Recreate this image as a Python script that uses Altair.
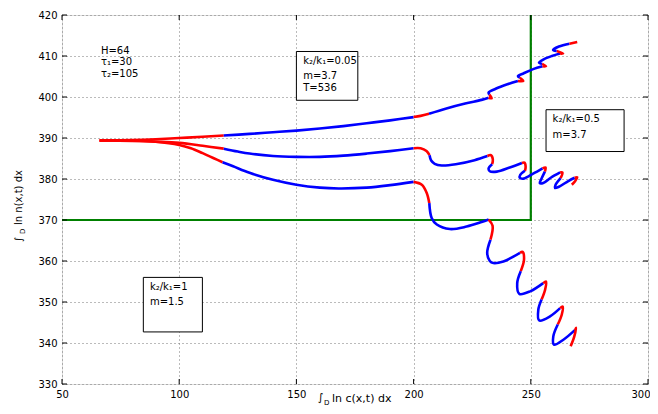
import altair as alt
import pandas as pd

# ---------------- data ----------------
x_ticks = [50, 100, 150, 200, 250, 300]
y_ticks = [330, 340, 350, 360, 370, 380, 390, 400, 410, 420]

# curve 1 (top): points and colour of the piece that starts at each point
c1_x = [66, 80, 90, 100, 110, 119, 130, 140, 150, 160, 170, 180, 190, 200, 203, 206.6,
        214, 222, 229, 232, 233.3, 232.3, 232, 235, 240, 244.5, 246.8, 245.3, 244.5, 247,
        251, 255, 256.5, 254.8, 253.5, 255.5, 259, 262.5, 263.8, 261, 259.5, 262, 266.5, 269.8]
c1_y = [389.4, 389.5, 389.7, 390.0, 390.3, 390.6, 391.0, 391.4, 391.8, 392.3, 392.9, 393.6, 394.3, 395.1, 395.4, 395.9,
        397.2, 398.4, 399.3, 399.8, 399.7, 400.6, 401.1, 402.0, 403.1, 403.9, 403.9, 404.7, 405.1, 405.8,
        406.8, 407.5, 407.5, 408.1, 408.4, 409.2, 410.0, 410.6, 410.6, 411.2, 411.5, 412.3, 413.0, 413.4]
c1_c = list("rrrrr" "bbbbbbbb" "rr" "bbbb" "rr" "bbbb" "rr" "bbbb" "rr" "bbbb" "rr" "bbb" "rr")

# curve 2 (middle)
c2_x = [66, 80, 90, 100, 110, 119, 125, 130, 140, 150, 160, 170, 180, 190, 200, 203, 205.5,
        206.8, 207.5, 209, 212, 218, 226, 231.5, 233, 233.8, 233.5, 232, 232.5, 235.5, 241,
        246.2, 247.3, 247.8, 247.5, 245.5, 245.3, 247, 251, 255, 256.3, 256, 254.5, 253.8, 255.3,
        258.5, 262.5, 263.5, 262.7, 260.5, 260.3, 262, 266, 268.7, 269.8, 268.8, 267.5]
c2_y = [389.4, 389.3, 389.1, 388.8, 388.1, 387.4, 386.7, 386.2, 385.6, 385.4, 385.4, 385.7, 386.2, 386.8, 387.5, 387.5, 386.8,
        385.8, 384.5, 383.7, 383.3, 383.6, 384.6, 385.6, 385.8, 384.8, 383.6, 382.6, 381.9, 381.8, 382.8,
        383.9, 384.0, 383.0, 382.0, 381.0, 380.3, 380.1, 381.3, 382.6, 382.8, 381.8, 380.0, 379.0, 379.0,
        380.3, 381.6, 381.6, 380.2, 378.5, 377.8, 378.1, 379.5, 380.3, 380.4, 379.4, 378.6]
c2_c = list("rrrrr" "bbbbbbbbb" "rrr" "bbbbbb" "rrr" "bbbbb" "rrr" "bbbbb" "rr" "bbbbb" "rr" "bbbbb" "rrrr")

# curve 3 (bottom)
c3_x = [66, 80, 90, 100, 105, 110, 115, 118.5, 123, 130, 140, 150, 160, 168, 180, 190, 200, 203.5, 205.6,
        206.7, 207.7, 209.9, 215.5, 222.6, 229, 232, 233.7, 232.8, 231.4, 232.5, 234, 238.3,
        245.4, 246.5, 247.1, 245.7, 244.2, 245.1, 249.7, 255.3, 256.5, 256.1, 254.6, 253.2, 253.6, 258.2,
        262.5, 263.6, 263.2, 261.5, 259.6, 259.9, 263.9, 268.9, 269.3, 268.5, 267]
c3_y = [389.4, 389.4, 389.1, 388.3, 387.5, 386.3, 385.0, 384.1, 383.1, 381.5, 379.8, 378.6, 377.9, 377.7, 377.9, 378.5, 379.3, 378.6, 376.6,
        374.1, 370.5, 368.9, 367.8, 368.4, 369.5, 370.1, 368.6, 365.2, 362.0, 360.0, 359.5, 359.9,
        362.0, 362.2, 360.3, 357.5, 354.6, 352.0, 352.6, 354.6, 355.0, 353.0, 350.6, 348.1, 345.5, 346.5,
        348.5, 348.9, 346.9, 344.5, 341.6, 339.6, 340.8, 343.2, 343.7, 341.5, 339.2]
c3_c = list("rrrrrrr" "bbbbbbbbb" "rrr" "bbbbbb" "rr" "bbbbb" "rrr" "bbbb" "rrr" "bbbb" "rrr" "bbbb" "rrrr")

# green boundary
green_x = [50, 250, 250]
green_y = [370, 370, 420]

# annotation boxes
box_x1 = [150, 256.5, 84.7]
box_x2 = [176.2, 289.8, 109.9]
box_y1 = [411.1, 396.9, 356.0]
box_y2 = [399.2, 386.7, 342.7]

# annotation texts
ann_text = ["H=64", "τ₁=30", "τ₂=105",
            "k₂/k₁=0.05", "m=3.7", "T=536",
            "k₂/k₁=0.5", "m=3.7",
            "k₂/k₁=1", "m=1.5"]
ann_x = [66.6, 66.6, 66.6, 152.9, 152.9, 152.9, 259.3, 259.3, 87.5, 87.5]
ann_y = [411.3, 408.6, 405.7, 408.7, 405.1, 402.2, 394.7, 390.8, 353.6, 350.1]

# ---------------- build tables ----------------
rows = []
for cid, (xs, ys, cs) in enumerate([(c1_x, c1_y, c1_c), (c2_x, c2_y, c2_c), (c3_x, c3_y, c3_c)]):
    seg = -1
    order = 0
    for i in range(len(xs) - 1):
        if i == 0 or cs[i] != cs[i - 1]:
            seg += 1
            rows.append({"x": xs[i], "y": ys[i], "col": cs[i], "seg": f"{cid}-{seg}", "ord": order})
            order += 1
        rows.append({"x": xs[i + 1], "y": ys[i + 1], "col": cs[i], "seg": f"{cid}-{seg}", "ord": order})
        order += 1
curves_df = pd.DataFrame(rows)

green_df = pd.DataFrame({"x": green_x, "y": green_y, "ord": list(range(len(green_x)))})
box_df = pd.DataFrame({"x1": box_x1, "x2": box_x2, "y1": box_y1, "y2": box_y2})
ann_df = pd.DataFrame({"x": ann_x, "y": ann_y, "t": ann_text})
xt_df = pd.DataFrame({"v": x_ticks})
yt_df = pd.DataFrame({"v": y_ticks})

W, H = 586, 369
FONT = "DejaVu Sans"

xscale = alt.Scale(domain=[50, 300], nice=False, zero=False)
yscale = alt.Scale(domain=[330, 420], nice=False, zero=False)

xaxis = alt.Axis(values=x_ticks, title=None, grid=True, gridDash=[1, 3], gridColor="#777777",
                 gridWidth=1, ticks=False, domain=False, labelFont=FONT, labelFontSize=10,
                 labelColor="black", labelPadding=5, labelFlush=False,
                 labelAlign={"condition": {"test": "datum.value == 300", "value": "right"}, "value": "center"},
                 labelOffset={"condition": {"test": "datum.value == 300", "value": 2}, "value": 0})
yaxis = alt.Axis(values=y_ticks, title=None, grid=True, gridDash=[1, 3], gridColor="#777777",
                 gridWidth=1, ticks=False, domain=False, labelFont=FONT, labelFontSize=10,
                 labelColor="black", labelPadding=5, labelFlush=False)

green = alt.Chart(green_df).mark_line(color="#008000", strokeWidth=2.2).encode(
    x=alt.X("x:Q", scale=xscale, axis=xaxis),
    y=alt.Y("y:Q", scale=yscale, axis=yaxis),
    order="ord:Q",
)

curves = alt.Chart(curves_df).mark_line(strokeWidth=2.6, interpolate="catmull-rom",
                                        strokeJoin="round").encode(
    x=alt.X("x:Q", scale=xscale),
    y=alt.Y("y:Q", scale=yscale),
    color=alt.Color("col:N", scale=alt.Scale(domain=["r", "b"], range=["#ff0000", "#0000ff"]), legend=None),
    detail="seg:N",
    order="ord:Q",
)

boxes = alt.Chart(box_df).mark_rect(fill="white", stroke="black", strokeWidth=1).encode(
    x=alt.X("x1:Q", scale=xscale), x2="x2:Q",
    y=alt.Y("y1:Q", scale=yscale), y2="y2:Q",
)

texts = alt.Chart(ann_df).mark_text(align="left", baseline="middle", font=FONT, fontSize=10,
                                    color="black").encode(
    x=alt.X("x:Q", scale=xscale), y=alt.Y("y:Q", scale=yscale), text="t:N",
)

# inward tick marks on all four sides
tick_b = alt.Chart(xt_df).mark_rule(color="black", strokeWidth=1).encode(
    x=alt.X("v:Q", scale=xscale), y=alt.value(H), y2=alt.value(H - 5))
tick_t = alt.Chart(xt_df).mark_rule(color="black", strokeWidth=1).encode(
    x=alt.X("v:Q", scale=xscale), y=alt.value(0), y2=alt.value(5))
tick_l = alt.Chart(yt_df).mark_rule(color="black", strokeWidth=1).encode(
    y=alt.Y("v:Q", scale=yscale), x=alt.value(0), x2=alt.value(5))
tick_r = alt.Chart(yt_df).mark_rule(color="black", strokeWidth=1).encode(
    y=alt.Y("v:Q", scale=yscale), x=alt.value(W), x2=alt.value(W - 5))


def ttl(text, x, y, size, angle=0):
    return alt.Chart(pd.DataFrame({"t": [text]})).mark_text(
        align="left", baseline="alphabetic", font=FONT, fontSize=size, color="black", angle=angle
    ).encode(text="t:N", x=alt.value(x), y=alt.value(y))


titles = [
    ttl("∫", 256, 386, 11), ttl("D", 262, 390, 7), ttl("ln c(x,t) dx", 270, 387, 11),
    ttl("∫", -40, 227, 10, 270), ttl("D", -37, 219, 7, 270), ttl("ln n(x,t) dx", -40, 210, 10, 270),
]

chart = alt.layer(green, curves, boxes, texts, tick_b, tick_t, tick_l, tick_r, *titles).properties(
    width=W, height=H,
    padding={"left": 54, "top": 7, "right": 2, "bottom": 22},
    autosize=alt.AutoSizeParams(type="none"),
).configure_view(stroke="black", strokeWidth=2).configure(background="white")

chart.save("out.html", embed_options={"renderer": "svg", "actions": False})
